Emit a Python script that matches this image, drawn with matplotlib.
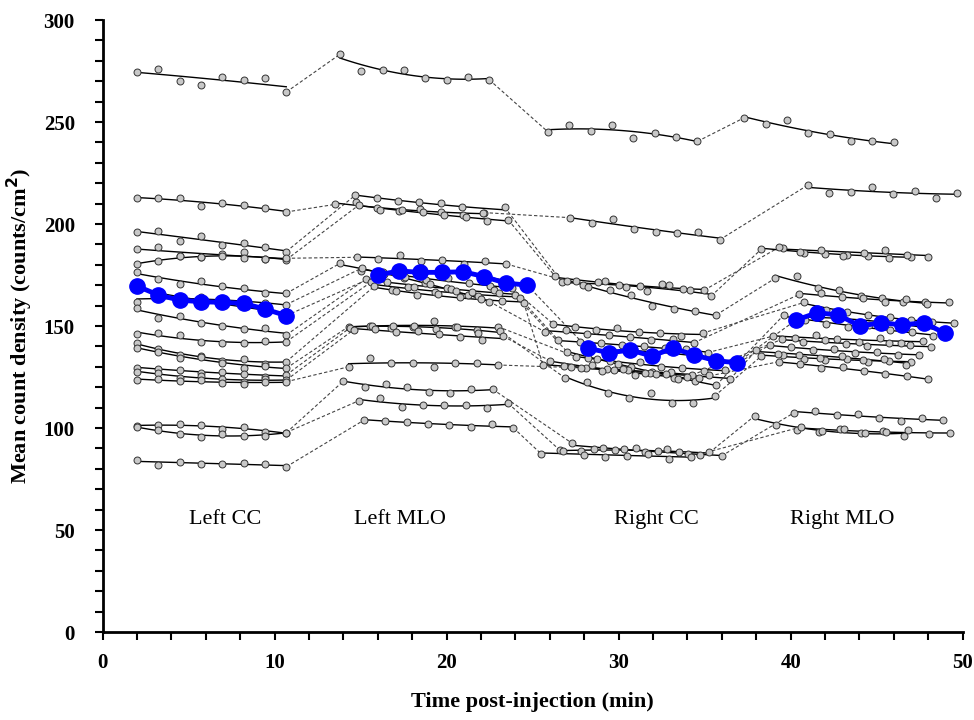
import numpy as np
import matplotlib
matplotlib.use("Agg")
import matplotlib.pyplot as plt

# Tiempos: inicio de cada vista por paciente, paso entre imagenes (min)
step = 1.24
lcc_t0 = [2.0] * 18
lmlo_t0 = [13.8, 13.5, 14.7, 14.9, 14.8, 13.8, 16.0, 15.1, 15.3, 15.6, 15.8, 14.3, 14.4, 14.6, 14.3, 14.0, 14.9, 15.2]
rcc_t0 = [25.9, 27.2, 26.7, 26.3, 27.0, 25.7, 28.2, 26.2, 27.0, 26.5, 25.6, 27.5, 26.9, 26.0, 27.8, 27.3, 26.6, 25.5]
rmlo_t0 = [37.3, 41.0, 38.3, 39.3, 39.1, 40.5, 40.3, 40.8, 39.6, 39.0, 39.5, 38.8, 38.3, 39.3, 38.0, 40.2, 37.9, 40.6]

# Densidad media de cuentas (counts/cm2), 8 imagenes por vista
lcc_vals = [
    [274.4, 275.8, 270.2, 268.3, 271.9, 270.7, 271.4, 264.7],
    [212.7, 212.7, 212.7, 208.8, 210.1, 209.3, 207.7, 205.9],
    [196.0, 196.5, 191.5, 194.0, 189.5, 190.5, 188.5, 186.5],
    [187.7, 188.5, 184.5, 184.0, 185.5, 186.5, 183.0, 182.5],
    [180.2, 182.0, 184.5, 184.0, 184.5, 183.5, 183.0, 183.2],
    [176.6, 173.0, 170.5, 172.0, 169.5, 168.5, 166.0, 166.0],
    [169.6, 165.2, 162.7, 161.9, 161.6, 161.1, 158.3, 155.1],
    [162.0, 165.5, 163.0, 164.0, 161.0, 162.5, 161.5, 160.5],
    [158.7, 154.0, 155.0, 151.5, 150.0, 148.5, 149.0, 145.6],
    [145.9, 146.5, 145.5, 142.0, 141.5, 141.5, 142.5, 142.3],
    [141.5, 138.5, 136.0, 135.5, 133.0, 134.0, 131.5, 132.5],
    [139.1, 137.5, 134.5, 135.0, 132.0, 129.5, 130.5, 129.3],
    [129.6, 129.0, 128.5, 127.0, 127.5, 126.5, 125.0, 126.0],
    [127.6, 127.0, 124.5, 125.5, 124.0, 122.5, 124.0, 123.5],
    [123.5, 124.0, 123.0, 123.5, 122.0, 121.5, 122.5, 122.7],
    [101.0, 101.5, 101.8, 101.3, 99.5, 100.3, 98.2, 97.7],
    [100.5, 98.8, 97.3, 95.8, 97.0, 96.3, 96.2, 97.8],
    [84.5, 82.0, 83.5, 82.3, 82.5, 82.8, 82.3, 81.0],
]
lmlo_vals = [
    [283.2, 274.8, 275.6, 275.6, 271.4, 270.6, 272.1, 270.7],
    [209.6, 210.6, 207.7, 206.4, 207.2, 206.0, 204.4, 205.6],
    [214.2, 212.6, 211.4, 210.9, 210.5, 208.5, 205.5, 208.2],
    [209.3, 207.0, 206.9, 206.0, 204.4, 203.3, 201.6, 202.0],
    [183.7, 182.7, 185.0, 181.8, 182.2, 180.5, 181.8, 180.4],
    [180.7, 177.0, 176.5, 173.5, 171.0, 168.5, 165.0, 162.0],
    [175.0, 177.0, 176.3, 176.3, 176.6, 174.2, 171.0, 170.1],
    [178.5, 175.5, 174.0, 172.5, 173.5, 171.0, 169.5, 168.5],
    [173.0, 171.5, 169.0, 170.5, 168.0, 166.5, 167.5, 165.0],
    [171.5, 167.5, 169.0, 166.5, 167.0, 164.5, 166.0, 163.5],
    [169.5, 167.0, 165.0, 165.5, 164.0, 163.0, 162.5, 161.5],
    [149.7, 150.2, 149.2, 149.7, 152.6, 149.7, 148.0, 149.7],
    [149.2, 150.2, 150.2, 150.2, 148.4, 149.4, 146.4, 147.7],
    [148.2, 148.5, 147.0, 147.5, 146.0, 144.5, 143.0, 145.0],
    [130.0, 134.2, 132.0, 132.0, 130.0, 132.0, 132.0, 130.9],
    [123.0, 120.2, 121.4, 120.2, 117.5, 117.0, 119.0, 119.0],
    [113.4, 114.5, 110.4, 111.3, 111.3, 111.3, 110.0, 112.1],
    [103.9, 103.6, 103.1, 102.0, 101.5, 100.6, 102.0, 100.1],
]
rcc_vals = [
    [245.1, 248.4, 245.7, 248.4, 242.3, 244.6, 242.8, 240.5],
    [203.1, 200.6, 202.5, 197.4, 195.9, 195.6, 196.1, 192.3],
    [171.7, 170.0, 172.0, 169.0, 167.0, 170.0, 167.5, 164.7],
    [174.5, 172.0, 171.5, 170.0, 169.5, 170.5, 168.0, 167.6],
    [172.0, 169.3, 167.6, 165.2, 160.0, 158.2, 157.5, 155.5],
    [147.2, 148.0, 146.0, 145.5, 144.5, 143.0, 143.5, 141.8],
    [139.1, 136.9, 138.2, 135.3, 139.1, 135.8, 133.0, 132.0],
    [151.0, 149.5, 148.0, 149.0, 147.0, 146.5, 145.0, 146.5],
    [137.4, 134.5, 133.0, 130.0, 127.5, 124.5, 123.0, 121.1],
    [143.0, 142.0, 141.5, 140.5, 140.0, 139.0, 138.5, 137.0],
    [131.0, 130.5, 129.5, 129.0, 128.5, 127.0, 127.5, 126.0],
    [135.0, 134.0, 131.5, 132.5, 130.0, 129.5, 128.0, 128.5],
    [124.4, 122.7, 117.0, 114.6, 117.0, 112.1, 112.4, 115.7],
    [133.0, 130.0, 131.0, 128.5, 126.0, 126.5, 124.0, 124.5],
    [129.5, 128.0, 129.0, 127.0, 126.5, 125.0, 126.0, 124.0],
    [92.5, 89.5, 89.0, 90.0, 88.5, 88.0, 87.0, 86.3],
    [89.0, 88.5, 90.0, 89.5, 88.0, 89.5, 87.5, 88.0],
    [87.3, 88.5, 87.0, 86.0, 86.5, 87.5, 85.0, 86.0],
]
rmlo_vals = [
    [252.1, 249.2, 250.8, 244.6, 244.1, 240.5, 240.7, 240.0],
    [219.1, 215.3, 215.8, 218.1, 214.9, 216.2, 212.9, 215.3],
    [187.7, 188.0, 186.0, 185.5, 185.0, 184.5, 183.5, 184.0],
    [188.5, 186.5, 187.5, 184.5, 186.0, 187.5, 185.0, 183.8],
    [173.4, 174.5, 168.5, 167.5, 164.5, 163.5, 162.0, 161.6],
    [165.5, 166.0, 164.0, 163.5, 162.0, 163.0, 161.0, 161.6],
    [152.9, 156.5, 155.4, 150.0, 151.6, 150.5, 151.6, 146.4],
    [161.6, 158.0, 157.0, 155.5, 154.5, 153.0, 152.0, 151.3],
    [155.4, 153.0, 151.0, 149.5, 150.5, 148.0, 147.0, 145.1],
    [145.1, 144.0, 145.5, 143.5, 142.0, 144.0, 141.5, 142.8],
    [143.5, 142.0, 143.0, 141.0, 140.0, 141.5, 140.5, 139.5],
    [140.7, 139.5, 138.0, 138.5, 137.0, 137.5, 136.0, 135.8],
    [135.3, 136.0, 134.0, 133.5, 134.0, 132.5, 133.0, 132.5],
    [132.5, 131.5, 129.5, 130.0, 128.0, 126.5, 125.5, 123.9],
    [138.0, 136.5, 136.0, 134.5, 135.5, 133.5, 134.0, 131.0],
    [107.5, 108.2, 106.2, 106.8, 105.0, 103.5, 104.8, 103.9],
    [105.9, 101.5, 99.0, 98.0, 99.5, 97.5, 98.5, 96.1],
    [100.5, 98.5, 99.5, 97.5, 98.0, 99.0, 97.0, 97.5],
]
highlight = 6  # paciente resaltado en azul

view_names = ["Left CC", "Left MLO", "Right CC", "Right MLO"]
view_label_x = [7.1, 17.3, 32.2, 43.0]

plt.rcParams['font.family'] = ['Liberation Serif', 'DejaVu Serif']

fig = plt.figure(figsize=(9.74, 7.2), dpi=100)
ax = fig.add_axes([0.1053, 0.1222, 0.8831, 0.85])

t0s = [lcc_t0, lmlo_t0, rcc_t0, rmlo_t0]
vals = [lcc_vals, lmlo_vals, rcc_vals, rmlo_vals]

for p in range(len(lcc_vals)):
    segs = []
    for v in range(4):
        y = np.array(vals[v][p])
        t = t0s[v][p] + step * np.arange(len(y))
        segs.append((t, y))
    # lineas discontinuas entre vistas
    for v in range(3):
        ta, ya = segs[v]
        tb, yb = segs[v + 1]
        ax.plot([ta[-1], tb[0]], [ya[-1], yb[0]], color='#444444', lw=0.8,
                dashes=(3, 2), zorder=1)
    for t, y in segs:
        coef = np.polyfit(t, y, 2)
        tt = np.linspace(t[0], t[-1], 60)
        ax.plot(tt, np.polyval(coef, tt), color='black', lw=1.0, zorder=2)
        if p != highlight:
            ax.plot(t, y, 'o', ms=5, mfc='#c8c8c8', mec='#333333', mew=0.7, zorder=3)

# paciente resaltado
for v in range(4):
    y = np.array(vals[v][highlight])
    t = t0s[v][highlight] + step * np.arange(len(y))
    ax.plot(t, y, '-o', color='#0000ff', lw=3.5, ms=11, zorder=5)

for name, xp in zip(view_names, view_label_x):
    ax.text(xp, 55, name, ha='center', va='center', fontsize=16)

ax.set_xlim(0, 50)
ax.set_ylim(0, 300)
ax.set_xticks(np.arange(0, 51, 10))
ax.set_xticks(np.arange(0, 51, 2), minor=True)
ax.set_yticks(np.arange(0, 301, 50))
ax.set_yticks(np.arange(0, 301, 10), minor=True)
ax.tick_params(which='both', direction='out', width=1.5, length=6)
ax.tick_params(axis='both', which='major', labelsize=15)
ax.tick_params(axis='x', pad=9)
ax.tick_params(axis='y', pad=14)
for lab in ax.get_xticklabels() + ax.get_yticklabels():
    lab.set_fontweight('bold')

for s in ['top', 'right']:
    ax.spines[s].set_visible(False)
for s in ['left', 'bottom']:
    ax.spines[s].set_linewidth(2)

ax.set_xlabel("Time post-injection (min)", fontsize=16, fontweight='bold', labelpad=14)
ax.set_ylabel("Mean count density (counts/cm$^{\\mathbf{2}}$)", fontsize=16, fontweight='bold', labelpad=6)

fig.savefig("out.png", dpi=100)
